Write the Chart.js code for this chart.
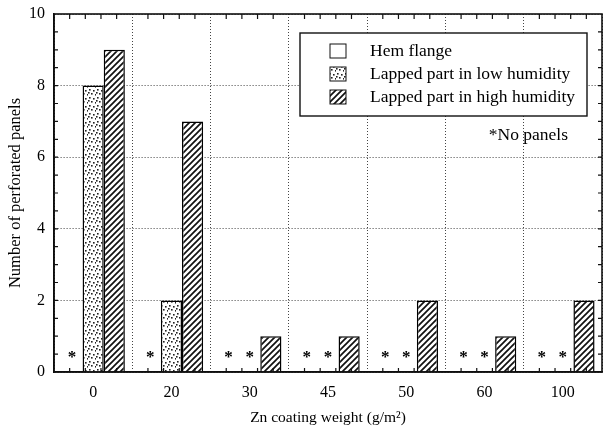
<!DOCTYPE html>
<html>
<head>
<meta charset="utf-8">
<script src="https://cdn.jsdelivr.net/npm/chart.js@4"></script>
<style>
  html, body { margin: 0; padding: 0; background: #fff; }
  #wrap { width: 604px; height: 428px; }
</style>
</head>
<body>
<div id="wrap"><canvas id="myChart" width="604" height="428"></canvas></div>
<script>
// data; null = "no panels" (drawn as *)
const categories = ['0', '20', '30', '45', '50', '60', '100'];
const hemFlange = [null, null, null, null, null, null, null];
const lowHumidity = [8, 2, null, null, null, null, null];
const highHumidity = [9, 7, 1, 1, 2, 1, 2];
const seriesNames = ['Hem flange', 'Lapped part in low humidity', 'Lapped part in high humidity'];
const yTicks = [0, 2, 4, 6, 8, 10];

const SERIF = '"Liberation Serif", "Times New Roman", "DejaVu Serif", serif';

function hatchPattern() {
    const s = 6;
    const c = document.createElement('canvas');
    c.width = s; c.height = s;
    const g = c.getContext('2d');
    g.fillStyle = '#fff';
    g.fillRect(0, 0, s, s);
    g.strokeStyle = '#111';
    g.lineWidth = 1.7;
    g.beginPath();
    g.moveTo(0, s); g.lineTo(s, 0);
    g.moveTo(-1, 1); g.lineTo(1, -1);
    g.moveTo(s - 1, s + 1); g.lineTo(s + 1, s - 1);
    g.stroke();
    return g.createPattern(c, 'repeat');
}

function dotPattern() {
    const s = 8;
    const c = document.createElement('canvas');
    c.width = s; c.height = s;
    const g = c.getContext('2d');
    g.fillStyle = '#fff';
    g.fillRect(0, 0, s, s);
    g.fillStyle = '#222';
    [[1, 1], [5, 2], [3, 5], [7, 6], [0, 4]].forEach(p => g.fillRect(p[0], p[1], 1.6, 1.6));
    return g.createPattern(c, 'repeat');
}

const fills = ['#fff', dotPattern(), hatchPattern()];

// frame, minor ticks, "no panel" stars, legend box, note
const decorations = {
    id: 'decorations',
    afterDatasetsDraw(chart) {
        const ctx = chart.ctx;
        const a = chart.chartArea;
        const y = chart.scales.y;
        ctx.save();

        // minor ticks inward
        ctx.strokeStyle = '#111';
        ctx.lineWidth = 1.2;
        ctx.beginPath();
        for (let v = 0.5; v < 10; v += 0.5) {
            const py = y.getPixelForValue(v);
            ctx.moveTo(a.left, py); ctx.lineTo(a.left + 4, py);
            ctx.moveTo(a.right, py); ctx.lineTo(a.right - 4, py);
        }
        const cw = (a.right - a.left) / categories.length;
        for (let i = 0; i < categories.length; i++) {
            for (let k = 1; k < 5; k++) {
                const px = a.left + (i + k / 5) * cw;
                ctx.moveTo(px, a.top); ctx.lineTo(px, a.top + 5);
                ctx.moveTo(px, a.bottom); ctx.lineTo(px, a.bottom - 4);
            }
        }
        ctx.stroke();

        // frame
        ctx.lineWidth = 1.6;
        ctx.strokeRect(a.left, a.top, a.right - a.left, a.bottom - a.top);

        // stars where a series has no panels
        ctx.fillStyle = '#000';
        ctx.font = 'bold 17px ' + SERIF;
        ctx.textAlign = 'center';
        ctx.textBaseline = 'middle';
        const starY = y.getPixelForValue(0.5);
        chart.data.datasets.forEach((ds, di) => {
            const meta = chart.getDatasetMeta(di);
            ds.data.forEach((v, j) => {
                if (v === null) {
                    ctx.fillText('*', meta.data[j].x, starY + 4);
                }
            });
        });

        // legend
        const lx = a.left + 246, ly = a.top + 19, lw = 287, lh = 83;
        ctx.fillStyle = '#fff';
        ctx.fillRect(lx, ly, lw, lh);
        ctx.lineWidth = 1.4;
        ctx.strokeStyle = '#111';
        ctx.strokeRect(lx, ly, lw, lh);
        ctx.font = '17.5px ' + SERIF;
        ctx.textAlign = 'left';
        ctx.textBaseline = 'middle';
        seriesNames.forEach((name, i) => {
            const ry = ly + 18 + i * 23;
            ctx.fillStyle = fills[i];
            ctx.fillRect(lx + 30, ry - 7, 16, 14);
            ctx.lineWidth = 1;
            ctx.strokeRect(lx + 30, ry - 7, 16, 14);
            ctx.fillStyle = '#000';
            ctx.fillText(name, lx + 70, ry);
        });
        ctx.textAlign = 'right';
        ctx.fillText('*No panels', lx + 268, ly + 102);

        ctx.restore();
    }
};

const ctx = document.getElementById('myChart').getContext('2d');

const myChart = new Chart(ctx, {
    type: 'bar',
    data: {
        labels: categories,
        datasets: [hemFlange, lowHumidity, highHumidity].map((d, i) => ({
            label: seriesNames[i],
            data: d,
            backgroundColor: fills[i],
            borderColor: '#000',
            borderWidth: 1.5,
            borderSkipped: 'bottom',
            barPercentage: 1.0,
            categoryPercentage: 0.81
        }))
    },
    options: {
        responsive: false,
        animation: false,
        devicePixelRatio: 1,
        layout: { padding: { top: 14, right: 2, left: 0, bottom: 0 } },
        plugins: {
            legend: { display: false },
            tooltip: { enabled: false }
        },
        scales: {
            x: {
                afterFit: s => { s.height = 56; s.paddingLeft = 0; s.paddingRight = 0; },
                grid: {
                    offset: true,
                    drawTicks: false,
                    color: '#444',
                    lineWidth: 1
                },
                border: { display: true, color: '#000', width: 1.6, dash: [1, 2] },
                ticks: {
                    padding: 11,
                    color: '#000',
                    font: { family: SERIF, size: 16 }
                },
                title: {
                    display: true,
                    text: 'Zn coating weight (g/m²)',
                    color: '#000',
                    font: { family: SERIF, size: 15.5 },
                    padding: { top: 0, bottom: 1 }
                }
            },
            y: {
                min: 0,
                max: 10,
                afterFit: s => { s.width = 54; s.paddingTop = 0; s.paddingBottom = 0; },
                afterBuildTicks: s => { s.ticks = yTicks.map(v => ({ value: v })); },
                grid: {
                    drawTicks: false,
                    color: '#444',
                    lineWidth: 1
                },
                border: { display: true, color: '#000', width: 1.6, dash: [1, 2] },
                ticks: {
                    padding: 9,
                    color: '#000',
                    font: { family: SERIF, size: 16 }
                },
                title: {
                    display: true,
                    text: 'Number of perforated panels',
                    color: '#000',
                    font: { family: SERIF, size: 16.5 },
                    padding: { top: 6, bottom: 0 }
                }
            }
        }
    },
    plugins: [decorations]
});
</script>
</body>
</html>
